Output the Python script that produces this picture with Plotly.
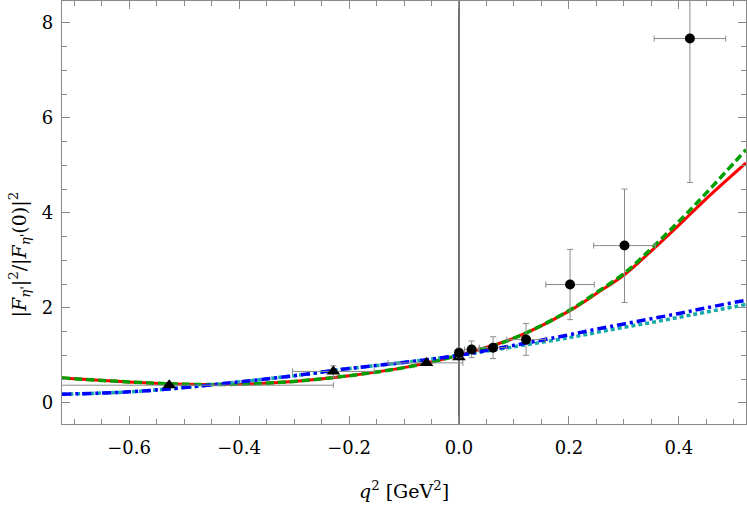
import plotly.graph_objects as go

# ===== curve samples =====
q2 = [-0.722, -0.6, -0.5, -0.4, -0.3, -0.2, -0.1, 0.0, 0.1, 0.2, 0.25, 0.3, 0.35, 0.4, 0.45, 0.522]
red_vals = [0.52, 0.44, 0.39, 0.39, 0.45, 0.57, 0.74, 1.0, 1.36, 1.93, 2.30, 2.69, 3.20, 3.74, 4.30, 5.05]
green_vals = [0.52, 0.44, 0.39, 0.39, 0.45, 0.57, 0.74, 1.0, 1.36, 1.94, 2.32, 2.72, 3.25, 3.82, 4.42, 5.33]
blue_vals = [0.18, 0.23, 0.32, 0.44, 0.57, 0.72, 0.85, 1.0, 1.21, 1.43, 1.55, 1.66, 1.77, 1.88, 2.0, 2.16]
cyan_vals = [0.18, 0.23, 0.32, 0.44, 0.57, 0.72, 0.85, 1.0, 1.18, 1.37, 1.48, 1.59, 1.69, 1.80, 1.91, 2.07]

# ===== data: circles =====
dot_x = [0.0, 0.023, 0.062, 0.122, 0.202, 0.301, 0.42]
dot_y = [1.05, 1.12, 1.16, 1.33, 2.49, 3.31, 7.67]
dot_xerr = [0.0, 0.013, 0.025, 0.035, 0.044, 0.056, 0.065]
dot_yerr_plus = [0.1, 0.18, 0.23, 0.34, 0.74, 1.19, 1.5]
dot_yerr_minus = [0.1, 0.17, 0.23, 0.33, 0.74, 1.2, 3.03]

# ===== data: triangles =====
tri_x = [-0.527, -0.2285, -0.059, 0.0]
tri_y = [0.37, 0.66, 0.84, 0.96]
tri_xerr_plus = [0.2985, 0.0745, 0.066, 0.0]
tri_xerr_minus = [0.25, 0.0745, 0.07, 0.0]
tri_yerr = [0.05, 0.12, 0.04, 0.05]

FONT = "DejaVu Serif"
ERR = "#8a8a8a"
FRAME = "#8a8a8a"

fig = go.Figure()

fig.add_trace(go.Scatter(x=q2, y=red_vals, mode="lines", line_shape="spline",
                         line=dict(color="#ff0000", width=3)))
fig.add_trace(go.Scatter(x=q2, y=green_vals, mode="lines", line_shape="spline",
                         line=dict(color="#00a000", width=3.5, dash="8px,4px")))
fig.add_trace(go.Scatter(x=q2, y=cyan_vals, mode="lines", line_shape="spline",
                         line=dict(color="#14aaaa", width=3.5, dash="4px,3px")))
fig.add_trace(go.Scatter(x=q2, y=blue_vals, mode="lines", line_shape="spline",
                         line=dict(color="#0000ff", width=3.5, dash="9px,4px,3px,4px")))

fig.add_trace(go.Scatter(
    x=tri_x, y=tri_y, mode="markers",
    marker=dict(symbol="triangle-up", size=12, color="black"),
    error_x=dict(type="data", symmetric=False, array=tri_xerr_plus,
                 arrayminus=tri_xerr_minus, color=ERR, thickness=1, width=3),
    error_y=dict(type="data", array=tri_yerr, color=ERR, thickness=1, width=3),
))
fig.add_trace(go.Scatter(
    x=dot_x, y=dot_y, mode="markers",
    marker=dict(symbol="circle", size=10, color="black"),
    error_x=dict(type="data", array=dot_xerr, color=ERR, thickness=1, width=3),
    error_y=dict(type="data", symmetric=False, array=dot_yerr_plus,
                 arrayminus=dot_yerr_minus, color=ERR, thickness=1, width=3),
))

# vertical axis line at q^2 = 0
fig.add_vline(x=0, line_color="#111111", line_width=1.2, layer="below")

axis_common = dict(
    showgrid=False, zeroline=False, automargin=False,
    showline=True, linecolor=FRAME, linewidth=1.2, mirror="ticks",
    ticks="inside", tickcolor=FRAME, tickwidth=1,
    tickfont=dict(family=FONT, size=18, color="black"),
)

fig.update_xaxes(
    range=[-0.722, 0.522], dtick=0.2, tick0=0, ticklen=8, tickformat=".1f",
    ticklabelstandoff=7,
    minor=dict(dtick=0.05, ticks="inside", ticklen=5, tickcolor=FRAME),
    **axis_common,
)
fig.update_yaxes(
    range=[-0.447, 8.46], dtick=2, tick0=0, ticklen=8, ticklabelstandoff=4,
    minor=dict(dtick=0.5, ticks="inside", ticklen=5, tickcolor=FRAME),
    **axis_common,
)

# axis labels as annotations (positions)
fig.add_annotation(
    text="<i>q</i><sup>2</sup> [GeV<sup>2</sup>]",
    xref="paper", yref="paper", x=0.5, y=-0.155,
    xanchor="center", yanchor="middle", showarrow=False,
    font=dict(family=FONT, size=19, color="black"),
)
fig.add_annotation(
    text="|<i>F</i><sub><i>η</i>'</sub>|<sup>2</sup>/|<i>F</i><sub><i>η</i>'</sub>(0)|<sup>2</sup>",
    xref="paper", yref="paper", x=-0.062, y=0.40, textangle=-90,
    xanchor="center", yanchor="middle", showarrow=False,
    font=dict(family=FONT, size=19, color="black"),
)

fig.update_layout(
    width=747, height=507,
    margin=dict(l=62, r=1, t=1, b=83),
    plot_bgcolor="white", paper_bgcolor="white",
    showlegend=False,
)

# page body has a default 8px margin; drop it so the figure fills the window
fig.write_html("out.html", config={"displayModeBar": False},
               post_script="document.body.style.margin='0';document.body.style.overflow='hidden';")
